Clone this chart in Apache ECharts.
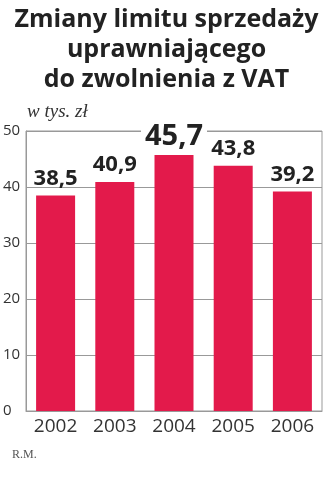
<!DOCTYPE html>
<html><head><meta charset="utf-8">
<script src="https://cdn.jsdelivr.net/npm/echarts@6/dist/echarts.min.js"></script>
<style>html,body{margin:0;padding:0;background:#fff}#c{width:333px;height:480px}</style>
</head><body><div id="c"></div>
<script>
const categories = ['2002','2003','2004','2005','2006'];
const values = [38.5, 40.9, 45.7, 43.8, 39.2];
const highlightIndex = 2;
const titleText = 'Zmiany limitu sprzedaży\nuprawniającego\ndo zwolnienia z VAT';
const unitText = 'w tys. zł';
const sourceText = 'R.M.';

const chart = echarts.init(document.getElementById('c'), null, {renderer:'canvas'});
const fmt = v => String(v).replace('.', ',');
chart.setOption({
  animation:false,
  title:{
    text:titleText, left:'center', top:0,
    textStyle:{fontFamily:'Open Sans', fontWeight:'bold', fontSize:25, lineHeight:30, color:'#222'}
  },
  graphic:[
    {type:'text', left:27, top:102, style:{text:unitText, font:'italic 19px "Liberation Serif"', fill:'#333'}},
    {type:'text', left:12, top:449, style:{text:sourceText, font:'12px "Liberation Serif"', fill:'#555'}}
  ],
  grid:{left:24, right:11, top:131, bottom:69, show:true, borderColor:'#999', borderWidth:1},
  xAxis:{
    type:'category', data:categories,
    axisLine:{lineStyle:{color:'#999'}}, axisTick:{show:false},
    axisLabel:{fontFamily:'Open Sans', fontSize:19, color:'#333', margin:6}
  },
  yAxis:{
    type:'value', min:0, max:50, interval:10,
    axisLine:{show:true, lineStyle:{color:'#999'}}, axisTick:{show:false},
    splitLine:{lineStyle:{color:'#999'}},
    axisLabel:{fontFamily:'Open Sans', fontSize:15, color:'#333', align:'left', margin:23}
  },
  series:[{
    type:'bar', barWidth:39,
    data: values.map((v,i)=>({
      value:v,
      label: i===highlightIndex
        ? {fontSize:29, distance:2, backgroundColor:'#fff', padding:[0,4,2,4]}
        : {fontSize:22, distance:6}
    })),
    itemStyle:{color:'#e31a4b'},
    label:{show:true, position:'top', fontFamily:'Open Sans', fontWeight:'bold', color:'#222',
      formatter:p=>fmt(p.value)}
  }]
});
</script></body></html>
